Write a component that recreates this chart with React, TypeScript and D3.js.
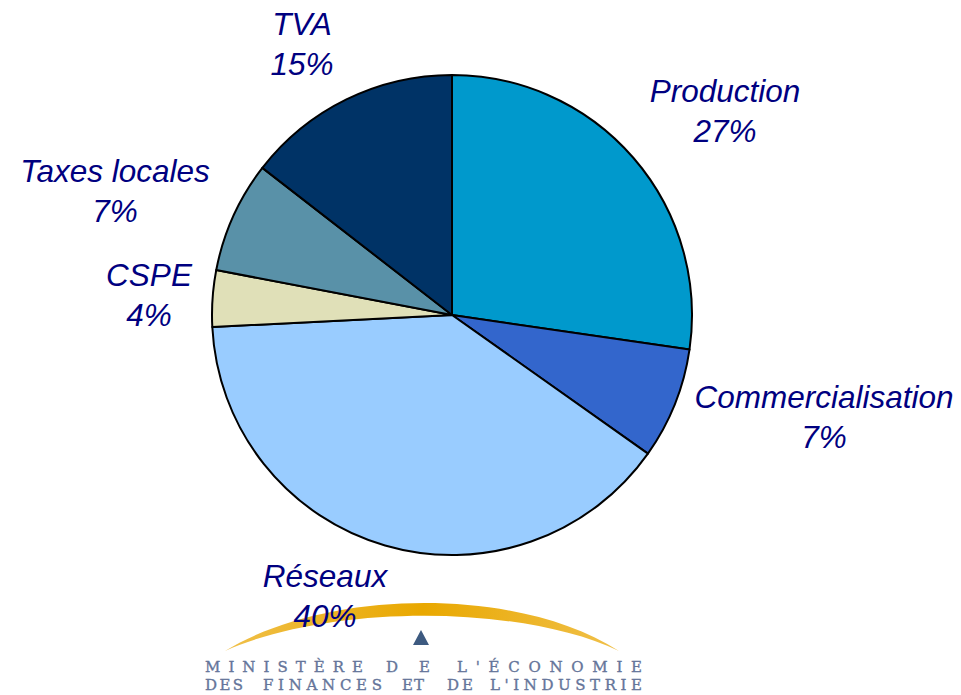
import React from "react";
import * as d3 from "d3";

const categories = ["Production", "Commercialisation", "Réseaux", "CSPE", "Taxes locales", "TVA"];
const values = [27.3, 7.5, 39.4, 3.8, 7.5, 14.5];
const percentLabels = ["27%", "7%", "40%", "4%", "7%", "15%"];

const sliceColors = ["#0099CC", "#3366CC", "#99CCFF", "#E0E0B8", "#5991A8", "#003366"];
// label anchor (center x, first baseline y) in page pixels
const labelAnchors: [number, number][] = [
  [725, 102],
  [824, 408],
  [325, 587],
  [149, 286],
  [115, 182],
  [302, 35],
];

const W = 961;
const H = 695;
const cx = 452;
const cy = 315;
const R = 240;

const logoLine1 = [
  { t: "MINISTÈRE", x0: 205, x1: 363 },
  { t: "DE", x0: 386, x1: 430 },
  { t: "L'ÉCONOMIE", x0: 457, x1: 642 },
];
const logoLine2 = [
  { t: "DES", x0: 205, x1: 243 },
  { t: "FINANCES", x0: 263, x1: 382 },
  { t: "ET", x0: 402, x1: 424 },
  { t: "DE", x0: 447, x1: 473 },
  { t: "L'INDUSTRIE", x0: 490, x1: 642 },
];

export default function App() {
  const pie = d3.pie<number>().sort(null).value((d) => d).startAngle(0).endAngle(2 * Math.PI);
  const arcs = pie(values);
  const arcGen = d3.arc<d3.PieArcDatum<number>>().innerRadius(0).outerRadius(R);

  // crescent path for logo arc
  const crescent = (() => {
    const p = d3.path();
    p.moveTo(225, 651);
    p.bezierCurveTo(330, 587, 520, 587, 619, 651);
    p.bezierCurveTo(520, 604, 330, 604, 225, 651);
    p.closePath();
    return p.toString();
  })();

  const logoText = (w: { t: string; x0: number; x1: number }, y: number, k: string) => (
    <text
      key={k}
      x={w.x0}
      y={y}
      textLength={w.x1 - w.x0}
      lengthAdjust="spacing"
      fontFamily="DejaVu Serif, serif"
      fontSize={15}
      fill="#65759A"
      stroke="#65759A"
      strokeWidth={0.35}
    >
      {w.t}
    </text>
  );

  return (
    <svg
      width={W}
      height={H}
      style={{ position: "absolute", left: 0, top: 0, background: "#ffffff" }}
    >
      <defs>
        <linearGradient id="gold" x1="0" x2="1" y1="0" y2="0">
          <stop offset="0" stopColor="#F0C04A" />
          <stop offset="0.5" stopColor="#E9A800" />
          <stop offset="1" stopColor="#F0C04A" />
        </linearGradient>
      </defs>
      <g transform={`translate(${cx},${cy})`}>
        {arcs.map((a, i) => (
          <path
            key={categories[i]}
            d={arcGen(a) || ""}
            fill={sliceColors[i]}
            stroke="#000000"
            strokeWidth={2}
            strokeLinejoin="round"
          />
        ))}
      </g>
      {/* logo */}
      <g>
        <path d={crescent} fill="url(#gold)" />
        <path d="M421,630 L429,645 L413,645 Z" fill="#3D5A80" />
        {logoLine1.map((w) => logoText(w, 671.5, "l1" + w.t))}
        {logoLine2.map((w) => logoText(w, 689.5, "l2" + w.t + w.x0))}
      </g>
      {arcs.map((a, i) => (
        <text
          key={"lab" + categories[i]}
          x={labelAnchors[i][0]}
          y={labelAnchors[i][1]}
          textAnchor="middle"
          fontFamily="Liberation Sans, Arial, sans-serif"
          fontStyle="italic"
          fontSize={31.5}
          fill="#000080"
        >
          <tspan x={labelAnchors[i][0]}>{categories[i]}</tspan>
          <tspan x={labelAnchors[i][0]} dy={40}>
            {percentLabels[i]}
          </tspan>
        </text>
      ))}
    </svg>
  );
}
